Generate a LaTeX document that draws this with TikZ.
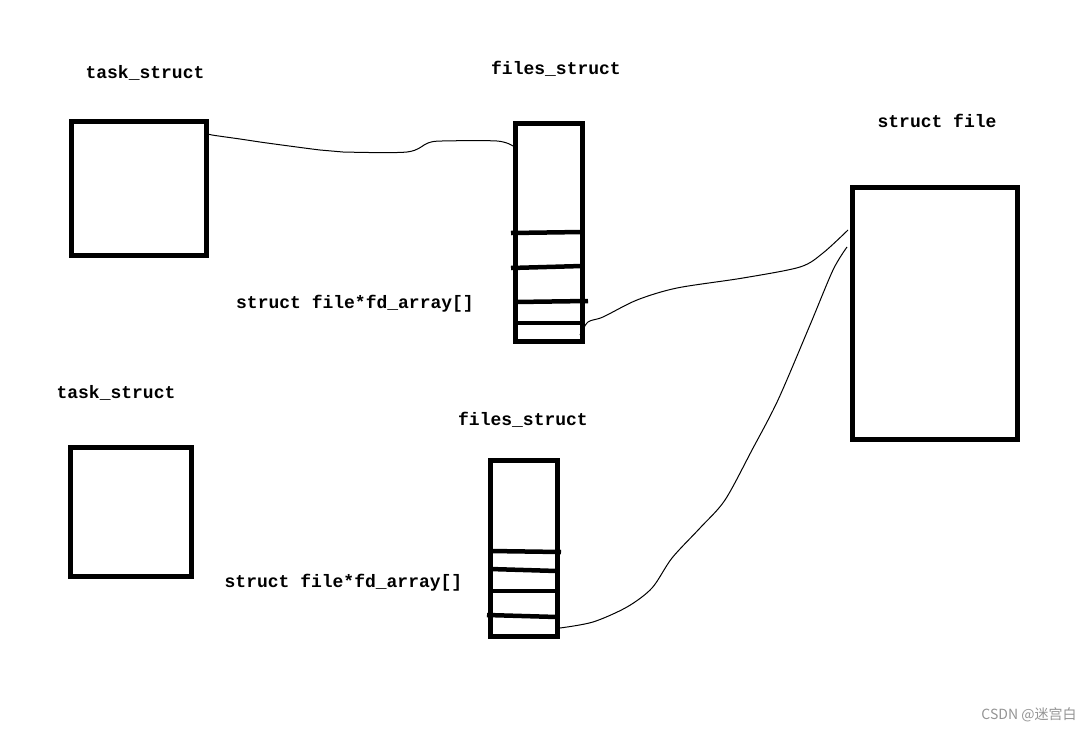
\documentclass[tikz,border=0pt]{standalone}
\usepackage{fontspec}
\setmonofont{Liberation Mono}
\newfontfamily\cjkfont{Noto Sans CJK SC}
\tikzset{
  box/.style={draw=black, line width=5pt, inner sep=0pt, outer sep=0pt},
  bar/.style={black, line width=4.5pt},
  wire/.style={black, line width=1pt},
  lbl/.style={font=\ttfamily\bfseries\fontsize{18}{20}\selectfont, inner sep=0pt}
}
\begin{document}
\begin{tikzpicture}[x=1pt,y=1pt]
\useasboundingbox (0,0) rectangle (1092,-731);
% upper process
\node [lbl] (lbltask1) at (145,-73) {task\_struct};
\node [box, minimum width=135pt, minimum height=134pt] (task1) at (138.5,-188) {};
\node [lbl] (lblfiles1) at (556,-69) {files\_struct};
\node [box, minimum width=67pt, minimum height=218pt] (files1) at (548.5,-232) {};
\draw [bar] (511,-233) -- (582,-232);
\draw [bar] (511,-268) -- (582,-266);
\draw [bar] (515,-302) -- (588,-301);
\draw [bar] (515,-323) -- (582,-323);
\node [lbl] (lblfd1) at (355,-304) {struct file*fd\_array[]};
% lower process
\node [lbl] (lbltask2) at (116,-393) {task\_struct};
\node [box, minimum width=121pt, minimum height=129pt] (task2) at (130.5,-511.5) {};
\node [lbl] (lblfiles2) at (523,-420) {files\_struct};
\node [box, minimum width=67pt, minimum height=176pt] (files2) at (523.5,-548) {};
\draw [bar] (490,-551) -- (561,-552);
\draw [bar] (490,-569) -- (557,-571);
\draw [bar] (490,-591) -- (557,-591);
\draw [bar] (487,-615) -- (557,-617);
\node [lbl] (lblfd2) at (343.5,-583) {struct file*fd\_array[]};
% shared struct file
\node [lbl] (lblfile) at (937,-121) {struct file};
\node [box, minimum width=165pt, minimum height=252pt] (file) at (934.5,-313) {};
% pointers
\draw [wire] plot [smooth, tension=0.5] coordinates {([shift={(-1,-12)}]task1.north east) (212,-135) (240,-139) (267,-143) (320,-150) (343,-152) (407,-152) (428,-143) (442,-141) (497,-141) ([shift={(-2,-23)}]files1.north west)};
\draw [wire] plot [smooth, tension=0.5] coordinates {([shift={(-2,6)}]files1.south east) (588,-322) (603,-317) (637,-300) (677,-288) (743,-278) (800,-267) (823,-253) ([shift={(-4,-43)}]file.north west)};
\draw [wire] plot [smooth, tension=0.5] coordinates {([shift={(3,8)}]files2.south east) (593,-622) (627,-607) (652,-588) (672,-558) (700,-528) (725,-500) (752,-450) (778,-400) (810,-325) (833,-270) ([shift={(-5,-60)}]file.north west)};
% watermark
\node [text=black!42, font=\cjkfont\fontsize{14}{16}\selectfont, inner sep=0pt] (mark) at (1029,-715) {CSDN @迷宫白};
\end{tikzpicture}
\end{document}
